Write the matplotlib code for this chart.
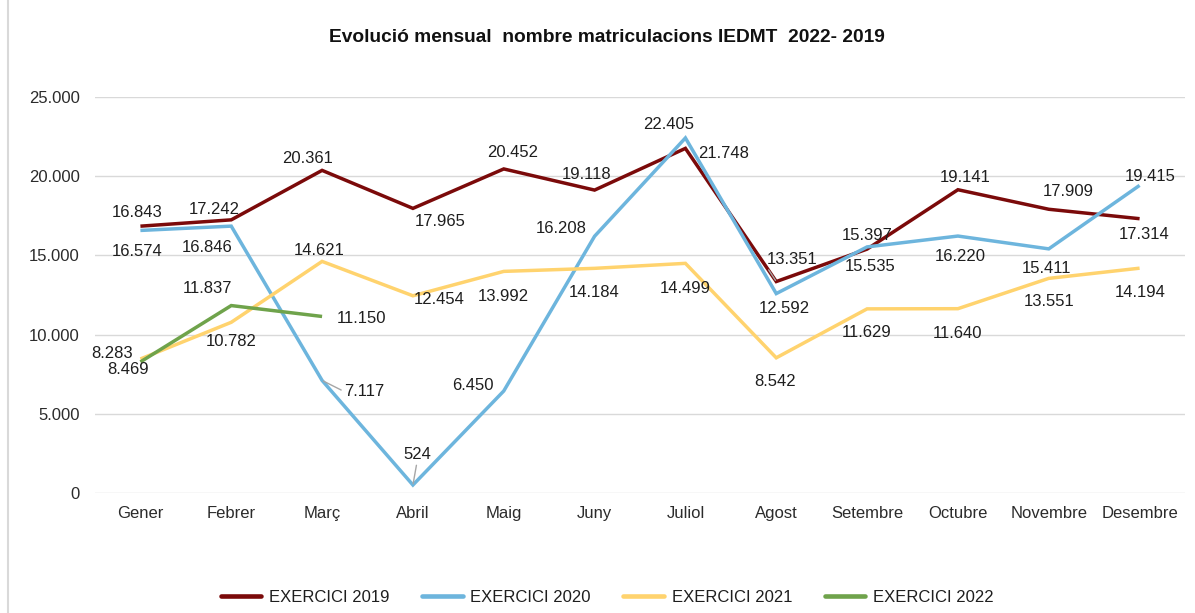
import matplotlib
matplotlib.use("Agg")
import matplotlib.pyplot as plt
from matplotlib.lines import Line2D
from matplotlib.ticker import FuncFormatter

# dades
mesos = ['Gener', 'Febrer', 'Març', 'Abril', 'Maig', 'Juny', 'Juliol',
         'Agost', 'Setembre', 'Octubre', 'Novembre', 'Desembre']
ex_2019 = [16843, 17242, 20361, 17965, 20452, 19118, 21748, 13351, 15397, 19141, 17909, 17314]
ex_2020 = [16574, 16846, 7117, 524, 6450, 16208, 22405, 12592, 15535, 16220, 15411, 19415]
ex_2021 = [8469, 10782, 14621, 12454, 13992, 14184, 14499, 8542, 11629, 11640, 13551, 14194]
ex_2022 = [8283, 11837, 11150]

series = [
    ('EXERCICI 2019', ex_2019, '#7B0A0A'),
    ('EXERCICI 2020', ex_2020, '#6DB5DD'),
    ('EXERCICI 2021', ex_2021, '#FFD36E'),
    ('EXERCICI 2022', ex_2022, '#6FA34B'),
]

# posicio de les etiquetes (pixels, x dreta, y amunt)
offsets = {
    'EXERCICI 2019': [(-3, 14), (-17, 10), (-15, 12), (27, -13), (9, 16), (-8, 16),
                      (38, -5), (16, 22), (0, 14), (7, 12), (19, 18), (5, -16)],
    'EXERCICI 2020': [(-3, -21), (-24, -21), (42, -11), (4, 30), (-31, 6), (-33, 8),
                      (-17, 13), (8, -15), (3, -20), (2, -20), (-2, -20), (11, 9)],
    'EXERCICI 2021': [(-12, -11), (0, -19), (-3, 11), (26, -4), (0, -25), (0, -24),
                      (0, -25), (-1, -24), (0, -24), (0, -25), (0, -23), (1, -24)],
    'EXERCICI 2022': [(-28, 8), (-24, 17), (39, -2)],
}
# etiquetes amb linia guia
guies = {('EXERCICI 2020', 2): (0, 0.5), ('EXERCICI 2020', 3): (0.5, 0),
         ('EXERCICI 2019', 7): (0, 0)}

plt.rcParams['font.family'] = ['Liberation Sans', 'DejaVu Sans']
W, H = 1195, 613
fig = plt.figure(figsize=(W / 100, H / 100), dpi=100)
ax = fig.add_axes([95 / W, 1 - 493.3 / H, (1185 - 95) / W, (493.3 - 96.8) / H])

txt_col = '#1e1e1e'
handles = []
for nom, vals, col in series:
    x = list(range(len(vals)))
    ln, = ax.plot(x, vals, color=col, lw=2.5, solid_joinstyle='miter',
                  solid_capstyle='butt', zorder=3)
    handles.append(Line2D([], [], color=col, lw=3.3, solid_capstyle='round'))
    for i, v in enumerate(vals):
        dx, dy = offsets[nom][i]
        etiq = f"{v:,}".replace(',', '.')
        kw = {}
        if (nom, i) in guies:
            kw['arrowprops'] = dict(arrowstyle='-', color='#A6A6A6', lw=1,
                                    shrinkA=0, shrinkB=1,
                                    relpos=guies[(nom, i)])
        ax.annotate(etiq, (i, v), xytext=(dx, dy), textcoords='offset pixels',
                    ha='center', va='center', fontsize=12, color=txt_col,
                    zorder=5, **kw)

ax.set_xlim(-0.5, 11.5)
ax.set_ylim(0, 25000)
ax.set_yticks(range(0, 25001, 5000))
ax.yaxis.set_major_formatter(FuncFormatter(lambda v, p: f"{int(v):,}".replace(',', '.')))
ax.set_xticks(range(12))
ax.set_xticklabels(mesos)
ax.tick_params(axis='both', length=0, labelsize=12, colors='#2b2b2b')
ax.tick_params(axis='y', pad=11)
ax.tick_params(axis='x', pad=9)
ax.grid(axis='y', color='#D9D9D9', lw=1)
ax.set_axisbelow(True)
for s in ax.spines.values():
    s.set_visible(False)

fig.text(607 / W, 1 - 38 / H, 'Evolució mensual  nombre matriculacions IEDMT  2022- 2019',
         ha='center', va='center', fontsize=13.8, fontweight='bold', color='#111111')

fig.legend(handles, [s[0] for s in series], loc='center', ncol=4,
           bbox_to_anchor=(607 / W, 1 - 597 / H), frameon=False, fontsize=12,
           handlelength=2.45, handletextpad=0.45, columnspacing=1.95,
           labelcolor=txt_col)

# vora del grafic
fig.add_artist(Line2D([8 / W, 8 / W], [0, 1], color='#D9D9D9', lw=1.5,
                      transform=fig.transFigure))

fig.savefig('out.png', dpi=100)
